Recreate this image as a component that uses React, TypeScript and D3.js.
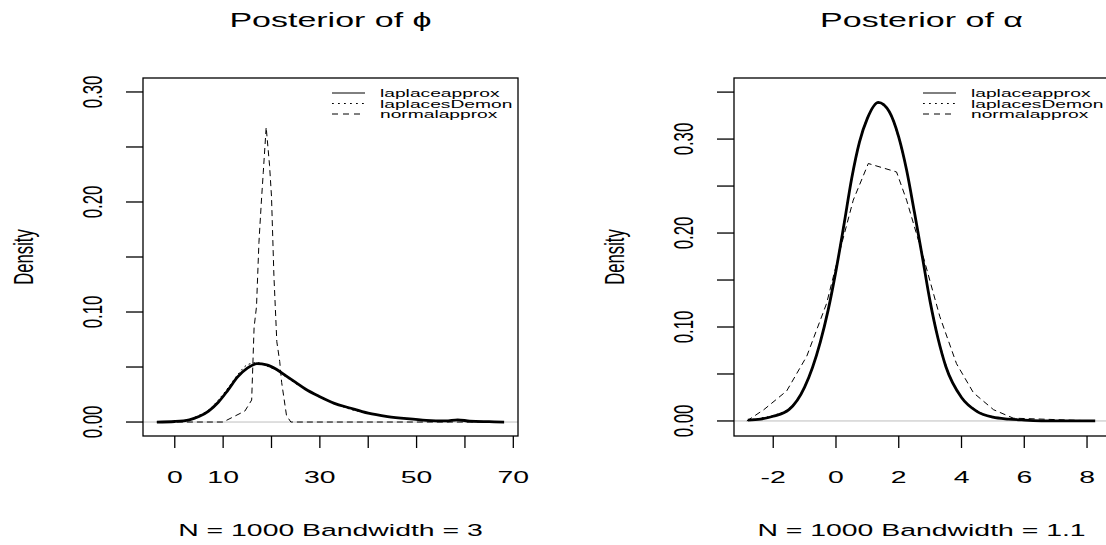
import React from 'react';
import * as d3 from 'd3';

// Posterior of phi (left panel)
const phiX = [-3.7, 0, 3, 5, 7, 9, 11, 13, 15, 17, 19, 21, 23, 25, 27, 30, 33, 36, 40, 44, 48, 52, 56, 58.5, 61, 65, 68.1];
const phiLaplace = [0, 0.0005, 0.002, 0.005, 0.010, 0.018, 0.029, 0.041, 0.049, 0.053, 0.052, 0.048, 0.042, 0.036, 0.030, 0.023, 0.017, 0.013, 0.008, 0.005, 0.003, 0.0015, 0.001, 0.002, 0.0008, 0.0003, 0];
const phiDemon = [0, 0.0005, 0.0025, 0.006, 0.011, 0.020, 0.031, 0.043, 0.052, 0.054, 0.051, 0.047, 0.041, 0.035, 0.030, 0.023, 0.017, 0.012, 0.008, 0.005, 0.003, 0.0015, 0.001, 0.0015, 0.0008, 0.0003, 0];
const phiNormalX = [-3.7, 10, 14.5, 15.9, 16.4, 16.9, 17.4, 17.9, 18.3, 18.9, 19.6, 20, 20.5, 21.1, 21.7, 22.1, 23.1, 24, 68.1];
const phiNormal = [0, 0, 0.01, 0.02, 0.086, 0.105, 0.163, 0.2, 0.227, 0.268, 0.233, 0.205, 0.133, 0.073, 0.055, 0.036, 0.006, 0, 0];
const phiXTicks = [0, 10, 20, 30, 40, 50, 60, 70];
const phiXLabels = ['0', '10', '', '30', '', '50', '', '70'];
const phiYTicks = [0, 0.05, 0.1, 0.15, 0.2, 0.25, 0.3];
const phiYLabels = ['0.00', '', '0.10', '', '0.20', '', '0.30'];

// Posterior of alpha (right panel)
const alphaX = [-2.81, -2.4, -2.0, -1.5, -1.0, -0.5, -0.25, 0, 0.25, 0.5, 0.75, 1.0, 1.35, 1.7, 2.0, 2.25, 2.5, 2.75, 3.0, 3.25, 3.5, 4.0, 4.5, 5.0, 5.5, 6.0, 7.0, 8.26];
const alphaLaplace = [0.001, 0.002, 0.005, 0.012, 0.036, 0.084, 0.118, 0.160, 0.208, 0.258, 0.297, 0.322, 0.339, 0.329, 0.302, 0.267, 0.222, 0.175, 0.127, 0.088, 0.058, 0.025, 0.010, 0.004, 0.002, 0.001, 0, 0];
const alphaDemon = [0.001, 0.003, 0.006, 0.013, 0.037, 0.085, 0.120, 0.162, 0.210, 0.259, 0.298, 0.323, 0.338, 0.328, 0.300, 0.266, 0.222, 0.176, 0.129, 0.090, 0.060, 0.026, 0.011, 0.004, 0.002, 0.001, 0, 0];
const alphaNormalX = [-2.84, -2.3, -1.57, -0.93, -0.3, 0.13, 0.55, 1.03, 1.93, 2.25, 2.78, 3.31, 3.84, 4.38, 5.02, 5.65, 8.26];
const alphaNormal = [0, 0.012, 0.032, 0.069, 0.125, 0.182, 0.235, 0.274, 0.265, 0.235, 0.175, 0.111, 0.061, 0.030, 0.012, 0.003, 0];
const alphaXTicks = [-2, 0, 2, 4, 6, 8];
const alphaXLabels = ['-2', '0', '2', '4', '6', '8'];
const alphaYTicks = [0, 0.05, 0.1, 0.15, 0.2, 0.25, 0.3, 0.35];
const alphaYLabels = ['0.00', '', '0.10', '', '0.20', '', '0.30', ''];

const legendNames = ['laplaceapprox', 'laplacesDemon', 'normalapprox'];
const legendDash = ['none', '1.8,4.2', '6,5'];

// the original image is stretched sideways, so text is too
const SX = 1.7;
const FONT = '"Liberation Sans", Arial, sans-serif';

const SText = ({ x, y, size, anchor = 'middle', rotate = false, dy, children }: any) => (
  <text
    transform={`translate(${x},${y}) scale(${SX},1)${rotate ? ' rotate(-90)' : ''}`}
    fontSize={size}
    textAnchor={anchor}
    dy={dy}
    fontFamily={FONT}
    fill="#000"
  >
    {children}
  </text>
);

const Panel = ({ left, title, sub, xDomain, yDomain, curves, xTicks, xLabels, yTicks, yLabels }: any) => {
  const x0 = left, x1 = left + 375, y0 = 78, y1 = 436;
  const x = d3.scaleLinear().domain(xDomain).range([x0, x1]);
  const y = d3.scaleLinear().domain(yDomain).range([y1, y0]);
  const cx = (x0 + x1) / 2;

  return (
    <g>
      <SText x={cx} y={27} size={20}>{title}</SText>
      <line x1={x0} x2={x1} y1={y(0)} y2={y(0)} stroke="#bebebe" strokeWidth={1} />
      {curves.map((c: any, i: number) => {
        const line = d3.line<number>()
          .x((_, j) => x(c.xs[j]))
          .y(d => y(d))
          .curve(c.smooth ? d3.curveMonotoneX : d3.curveLinear);
        return (
          <path key={i} d={line(c.ys) || ''} fill="none" stroke="#000"
            strokeWidth={c.width} strokeDasharray={c.dash} strokeLinejoin="round" />
        );
      })}
      <rect x={x0} y={y0} width={x1 - x0} height={y1 - y0} fill="none" stroke="#000" strokeWidth={1.3} />
      {xTicks.map((t: number, i: number) => (
        <g key={'x' + i}>
          <line x1={x(t)} x2={x(t)} y1={y1} y2={y1 + 12} stroke="#000" strokeWidth={1.3} />
          {xLabels[i] && <SText x={x(t)} y={483} size={16.7}>{xLabels[i]}</SText>}
        </g>
      ))}
      {yTicks.map((t: number, i: number) => (
        <g key={'y' + i}>
          <line x1={x0 - 17} x2={x0} y1={y(t)} y2={y(t)} stroke="#000" strokeWidth={1.3} />
          {yLabels[i] && <SText x={x0 - 51} y={y(t)} size={16.7} rotate dy="0.35em">{yLabels[i]}</SText>}
        </g>
      ))}
      <SText x={x0 - 120} y={(y0 + y1) / 2} size={16.7} rotate dy="0.35em">Density</SText>
      <SText x={cx} y={536} size={16.7}>{sub}</SText>
      {legendNames.map((n, i) => (
        <g key={'l' + i}>
          <line x1={x1 - 186} x2={x1 - 153} y1={93 + i * 10.5} y2={93 + i * 10.5}
            stroke="#000" strokeWidth={1} strokeDasharray={legendDash[i]} />
          <SText x={x1 - 138} y={97 + i * 10.5} size={11.3} anchor="start">{n}</SText>
        </g>
      ))}
    </g>
  );
};

export default function App() {
  return (
    <svg width={1106} height={545} style={{ position: 'absolute', left: 0, top: 0, background: '#fff' }}>
      <Panel
        left={143}
        title="Posterior of ϕ"
        sub="N = 1000   Bandwidth = 3"
        xDomain={[-6.57, 70.97]}
        yDomain={[-0.0127, 0.3127]}
        xTicks={phiXTicks}
        xLabels={phiXLabels}
        yTicks={phiYTicks}
        yLabels={phiYLabels}
        curves={[
          { xs: phiNormalX, ys: phiNormal, dash: '6,4', width: 1, smooth: false },
          { xs: phiX, ys: phiDemon, dash: '1.8,3', width: 1, smooth: true },
          { xs: phiX, ys: phiLaplace, dash: 'none', width: 2.8, smooth: true },
        ]}
      />
      <Panel
        left={734}
        title="Posterior of α"
        sub="N = 1000   Bandwidth = 1.1"
        xDomain={[-3.25, 8.7]}
        yDomain={[-0.016, 0.365]}
        xTicks={alphaXTicks}
        xLabels={alphaXLabels}
        yTicks={alphaYTicks}
        yLabels={alphaYLabels}
        curves={[
          { xs: alphaNormalX, ys: alphaNormal, dash: '6,4', width: 1, smooth: false },
          { xs: alphaX, ys: alphaDemon, dash: '1.8,3', width: 1, smooth: true },
          { xs: alphaX, ys: alphaLaplace, dash: 'none', width: 2.8, smooth: true },
        ]}
      />
    </svg>
  );
}
